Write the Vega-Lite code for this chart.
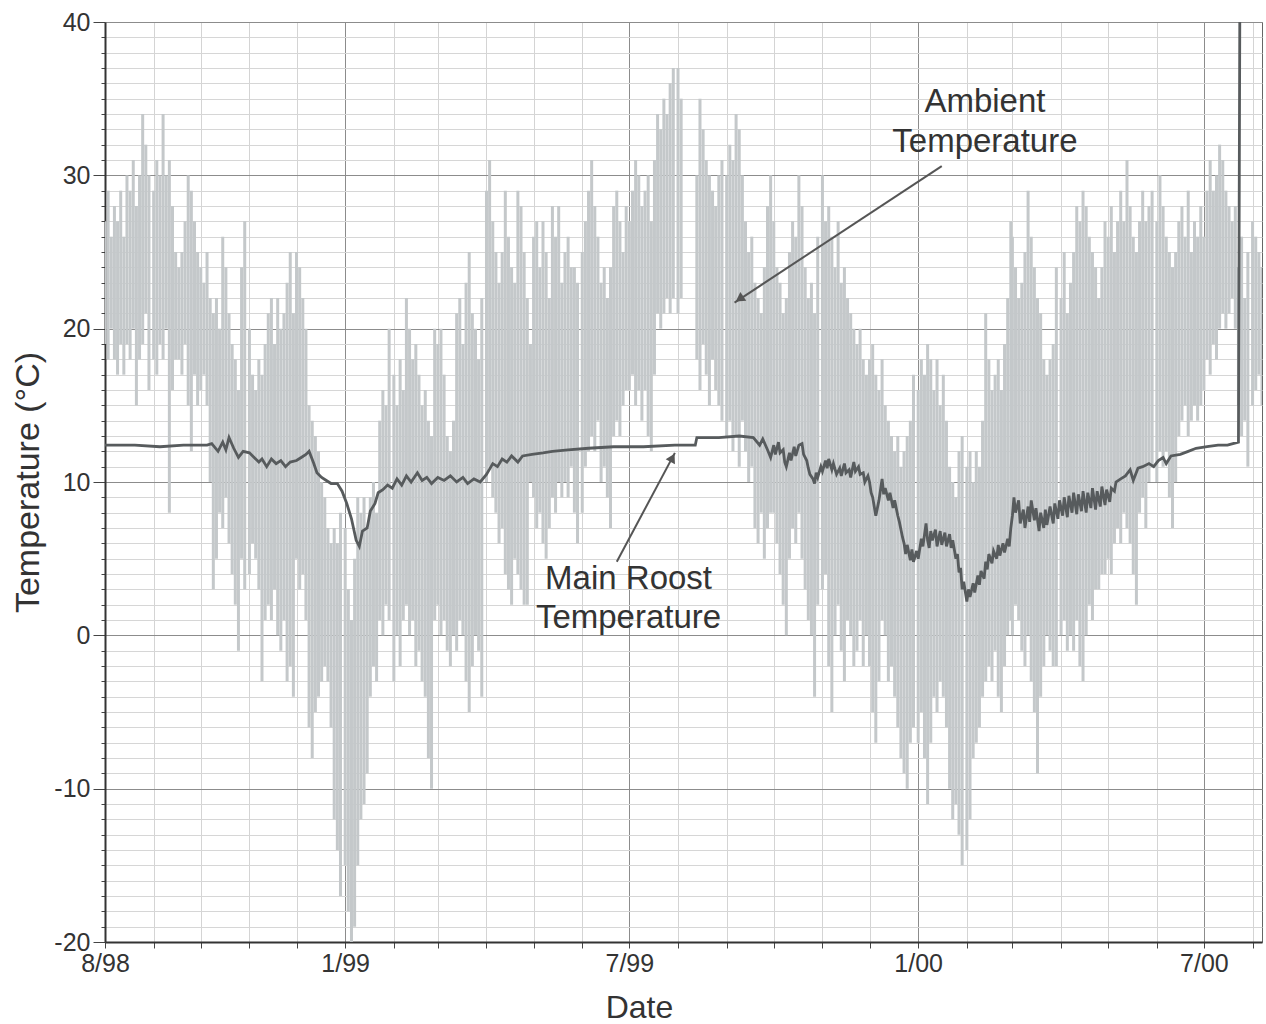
{
  "$schema": "https://vega.github.io/schema/vega-lite/v6.json",
  "width": 1157,
  "height": 920,
  "autosize": {"type": "none"},
  "padding": {"left": 105, "top": 22, "right": 4, "bottom": 82},
  "background": "white",
  "config": {
    "font": "Liberation Sans",
    "view": {"stroke": "#666666", "strokeWidth": 1},
    "axis": {"labelFont": "Liberation Sans", "titleFont": "Liberation Sans", "labelColor": "#333333", "titleColor": "#333333", "domainColor": "#333333", "domainWidth": 2, "tickColor": "#444444", "titleFontWeight": "normal", "labelOverlap": false}
  },
  "datasets": {
    "ambient": [
      {"d":"1998-08-01","lo":19,"hi":27},{"d":"1998-08-03","lo":18,"hi":29},{"d":"1998-08-05","lo":20,"hi":26},{"d":"1998-08-07","lo":18,"hi":28},{"d":"1998-08-09","lo":17,"hi":27},{"d":"1998-08-11","lo":19,"hi":29},{"d":"1998-08-13","lo":17,"hi":26},{"d":"1998-08-15","lo":19,"hi":30},{"d":"1998-08-17","lo":18,"hi":29},{"d":"1998-08-19","lo":20,"hi":31},{"d":"1998-08-21","lo":15,"hi":28},{"d":"1998-08-23","lo":18,"hi":30},{"d":"1998-08-25","lo":19,"hi":34},{"d":"1998-08-27","lo":21,"hi":32},{"d":"1998-08-29","lo":16,"hi":30},
      {"d":"1998-09-01","lo":18,"hi":29},{"d":"1998-09-03","lo":17,"hi":31},{"d":"1998-09-05","lo":19,"hi":30},{"d":"1998-09-07","lo":18,"hi":34},{"d":"1998-09-09","lo":20,"hi":30},{"d":"1998-09-11","lo":8,"hi":31},{"d":"1998-09-13","lo":16,"hi":28},{"d":"1998-09-15","lo":18,"hi":25},{"d":"1998-09-17","lo":18,"hi":24},{"d":"1998-09-19","lo":17,"hi":25},{"d":"1998-09-21","lo":19,"hi":27},{"d":"1998-09-23","lo":15,"hi":30},{"d":"1998-09-25","lo":12,"hi":29},{"d":"1998-09-27","lo":17,"hi":27},{"d":"1998-09-29","lo":15,"hi":25},
      {"d":"1998-10-01","lo":16,"hi":24},{"d":"1998-10-03","lo":17,"hi":23},{"d":"1998-10-05","lo":15,"hi":25},{"d":"1998-10-07","lo":10,"hi":22},{"d":"1998-10-09","lo":3,"hi":21},{"d":"1998-10-11","lo":5,"hi":22},{"d":"1998-10-13","lo":8,"hi":20},{"d":"1998-10-15","lo":7,"hi":26},{"d":"1998-10-17","lo":9,"hi":24},{"d":"1998-10-19","lo":6,"hi":21},{"d":"1998-10-21","lo":4,"hi":19},{"d":"1998-10-23","lo":2,"hi":18},{"d":"1998-10-25","lo":-1,"hi":16},{"d":"1998-10-27","lo":5,"hi":24},{"d":"1998-10-29","lo":3,"hi":27},
      {"d":"1998-11-01","lo":4,"hi":20},{"d":"1998-11-03","lo":6,"hi":17},{"d":"1998-11-05","lo":5,"hi":16},{"d":"1998-11-07","lo":3,"hi":18},{"d":"1998-11-09","lo":-3,"hi":17},{"d":"1998-11-11","lo":1,"hi":19},{"d":"1998-11-13","lo":2,"hi":21},{"d":"1998-11-15","lo":1,"hi":22},{"d":"1998-11-17","lo":3,"hi":19},{"d":"1998-11-19","lo":0,"hi":22},{"d":"1998-11-21","lo":-1,"hi":20},{"d":"1998-11-23","lo":1,"hi":21},{"d":"1998-11-25","lo":-3,"hi":23},{"d":"1998-11-27","lo":-2,"hi":25},{"d":"1998-11-29","lo":-4,"hi":21},
      {"d":"1998-12-01","lo":5,"hi":25},{"d":"1998-12-03","lo":3,"hi":24},{"d":"1998-12-05","lo":4,"hi":22},{"d":"1998-12-07","lo":1,"hi":20},{"d":"1998-12-09","lo":-6,"hi":15},{"d":"1998-12-11","lo":-8,"hi":14},{"d":"1998-12-13","lo":-5,"hi":13},{"d":"1998-12-15","lo":-4,"hi":12},{"d":"1998-12-17","lo":-3,"hi":10},{"d":"1998-12-19","lo":-2,"hi":9},{"d":"1998-12-21","lo":-3,"hi":7},{"d":"1998-12-23","lo":-6,"hi":6},{"d":"1998-12-25","lo":-12,"hi":7},{"d":"1998-12-27","lo":-14,"hi":6},{"d":"1998-12-29","lo":-17,"hi":8},
      {"d":"1999-01-01","lo":-15,"hi":7},{"d":"1999-01-03","lo":-18,"hi":3},{"d":"1999-01-05","lo":-20,"hi":1},{"d":"1999-01-07","lo":-19,"hi":5},{"d":"1999-01-09","lo":-15,"hi":9},{"d":"1999-01-11","lo":-12,"hi":8},{"d":"1999-01-13","lo":-11,"hi":9},{"d":"1999-01-15","lo":-9,"hi":7},{"d":"1999-01-17","lo":-4,"hi":9},{"d":"1999-01-19","lo":-2,"hi":10},{"d":"1999-01-21","lo":-3,"hi":8},{"d":"1999-01-23","lo":1,"hi":14},{"d":"1999-01-25","lo":0,"hi":16},{"d":"1999-01-27","lo":2,"hi":15},{"d":"1999-01-29","lo":1,"hi":20},
      {"d":"1999-02-01","lo":-3,"hi":17},{"d":"1999-02-03","lo":0,"hi":15},{"d":"1999-02-05","lo":-2,"hi":18},{"d":"1999-02-07","lo":1,"hi":16},{"d":"1999-02-09","lo":2,"hi":22},{"d":"1999-02-11","lo":0,"hi":20},{"d":"1999-02-13","lo":1,"hi":18},{"d":"1999-02-15","lo":-2,"hi":19},{"d":"1999-02-17","lo":-1,"hi":17},{"d":"1999-02-19","lo":-3,"hi":15},{"d":"1999-02-21","lo":-4,"hi":16},{"d":"1999-02-23","lo":-8,"hi":14},{"d":"1999-02-25","lo":-10,"hi":13},{"d":"1999-02-27","lo":1,"hi":20},
      {"d":"1999-03-01","lo":2,"hi":19},{"d":"1999-03-03","lo":0,"hi":20},{"d":"1999-03-05","lo":1,"hi":17},{"d":"1999-03-07","lo":-1,"hi":13},{"d":"1999-03-09","lo":-2,"hi":12},{"d":"1999-03-11","lo":0,"hi":14},{"d":"1999-03-13","lo":-1,"hi":21},{"d":"1999-03-15","lo":1,"hi":22},{"d":"1999-03-17","lo":0,"hi":19},{"d":"1999-03-19","lo":-3,"hi":23},{"d":"1999-03-21","lo":-5,"hi":25},{"d":"1999-03-23","lo":-2,"hi":21},{"d":"1999-03-25","lo":0,"hi":20},{"d":"1999-03-27","lo":-1,"hi":18},{"d":"1999-03-29","lo":-4,"hi":22},
      {"d":"1999-04-01","lo":10,"hi":29},{"d":"1999-04-03","lo":11,"hi":31},{"d":"1999-04-05","lo":9,"hi":27},{"d":"1999-04-07","lo":8,"hi":25},{"d":"1999-04-09","lo":6,"hi":23},{"d":"1999-04-11","lo":7,"hi":25},{"d":"1999-04-13","lo":4,"hi":29},{"d":"1999-04-15","lo":3,"hi":26},{"d":"1999-04-17","lo":2,"hi":24},{"d":"1999-04-19","lo":5,"hi":23},{"d":"1999-04-21","lo":4,"hi":29},{"d":"1999-04-23","lo":3,"hi":28},{"d":"1999-04-25","lo":2,"hi":25},{"d":"1999-04-27","lo":2,"hi":22},{"d":"1999-04-29","lo":10,"hi":19},
      {"d":"1999-05-01","lo":9,"hi":26},{"d":"1999-05-03","lo":7,"hi":27},{"d":"1999-05-05","lo":8,"hi":24},{"d":"1999-05-07","lo":6,"hi":27},{"d":"1999-05-09","lo":5,"hi":25},{"d":"1999-05-11","lo":7,"hi":22},{"d":"1999-05-13","lo":9,"hi":28},{"d":"1999-05-15","lo":8,"hi":26},{"d":"1999-05-17","lo":10,"hi":28},{"d":"1999-05-19","lo":9,"hi":23},{"d":"1999-05-21","lo":10,"hi":25},{"d":"1999-05-23","lo":9,"hi":26},{"d":"1999-05-25","lo":11,"hi":24},{"d":"1999-05-27","lo":8,"hi":24},{"d":"1999-05-29","lo":6,"hi":23},
      {"d":"1999-06-01","lo":8,"hi":25},{"d":"1999-06-03","lo":11,"hi":27},{"d":"1999-06-05","lo":12,"hi":29},{"d":"1999-06-07","lo":13,"hi":31},{"d":"1999-06-09","lo":12,"hi":28},{"d":"1999-06-11","lo":14,"hi":26},{"d":"1999-06-13","lo":10,"hi":23},{"d":"1999-06-15","lo":11,"hi":24},{"d":"1999-06-17","lo":9,"hi":22},{"d":"1999-06-19","lo":7,"hi":24},{"d":"1999-06-21","lo":13,"hi":28},{"d":"1999-06-23","lo":14,"hi":29},{"d":"1999-06-25","lo":13,"hi":27},{"d":"1999-06-27","lo":15,"hi":25},{"d":"1999-06-29","lo":16,"hi":28},
      {"d":"1999-07-01","lo":16,"hi":27},{"d":"1999-07-03","lo":17,"hi":29},{"d":"1999-07-05","lo":15,"hi":31},{"d":"1999-07-07","lo":16,"hi":30},{"d":"1999-07-09","lo":14,"hi":28},{"d":"1999-07-11","lo":16,"hi":29},{"d":"1999-07-13","lo":13,"hi":30},{"d":"1999-07-15","lo":12,"hi":27},{"d":"1999-07-17","lo":17,"hi":31},{"d":"1999-07-19","lo":21,"hi":34},{"d":"1999-07-21","lo":20,"hi":33},{"d":"1999-07-23","lo":21,"hi":35},{"d":"1999-07-25","lo":22,"hi":34},{"d":"1999-07-27","lo":21,"hi":36},{"d":"1999-07-29","lo":22,"hi":37},
      {"d":"1999-08-01","lo":21,"hi":37},{"d":"1999-08-03","lo":22,"hi":35},{"d":"1999-08-13","lo":18,"hi":30},{"d":"1999-08-15","lo":16,"hi":35},{"d":"1999-08-17","lo":19,"hi":33},{"d":"1999-08-19","lo":17,"hi":31},{"d":"1999-08-21","lo":15,"hi":30},{"d":"1999-08-23","lo":18,"hi":29},{"d":"1999-08-25","lo":16,"hi":28},{"d":"1999-08-27","lo":15,"hi":30},{"d":"1999-08-29","lo":14,"hi":31},
      {"d":"1999-09-01","lo":13,"hi":30},{"d":"1999-09-03","lo":14,"hi":32},{"d":"1999-09-05","lo":12,"hi":31},{"d":"1999-09-07","lo":13,"hi":34},{"d":"1999-09-09","lo":11,"hi":33},{"d":"1999-09-11","lo":14,"hi":30},{"d":"1999-09-13","lo":12,"hi":27},{"d":"1999-09-15","lo":10,"hi":25},{"d":"1999-09-17","lo":11,"hi":26},{"d":"1999-09-19","lo":7,"hi":23},{"d":"1999-09-21","lo":6,"hi":22},{"d":"1999-09-23","lo":8,"hi":21},{"d":"1999-09-25","lo":5,"hi":24},{"d":"1999-09-27","lo":7,"hi":28},{"d":"1999-09-29","lo":8,"hi":30},
      {"d":"1999-10-01","lo":8,"hi":27},{"d":"1999-10-03","lo":6,"hi":24},{"d":"1999-10-05","lo":4,"hi":23},{"d":"1999-10-07","lo":2,"hi":21},{"d":"1999-10-09","lo":0,"hi":22},{"d":"1999-10-11","lo":5,"hi":25},{"d":"1999-10-13","lo":7,"hi":27},{"d":"1999-10-15","lo":6,"hi":26},{"d":"1999-10-17","lo":8,"hi":30},{"d":"1999-10-19","lo":5,"hi":28},{"d":"1999-10-21","lo":3,"hi":24},{"d":"1999-10-23","lo":1,"hi":22},{"d":"1999-10-25","lo":0,"hi":23},{"d":"1999-10-27","lo":-4,"hi":21},{"d":"1999-10-29","lo":2,"hi":26},
      {"d":"1999-11-01","lo":3,"hi":30},{"d":"1999-11-03","lo":4,"hi":27},{"d":"1999-11-05","lo":-2,"hi":28},{"d":"1999-11-07","lo":-5,"hi":26},{"d":"1999-11-09","lo":0,"hi":24},{"d":"1999-11-11","lo":2,"hi":27},{"d":"1999-11-13","lo":-1,"hi":23},{"d":"1999-11-15","lo":-3,"hi":24},{"d":"1999-11-17","lo":1,"hi":22},{"d":"1999-11-19","lo":0,"hi":21},{"d":"1999-11-21","lo":-2,"hi":20},{"d":"1999-11-23","lo":-1,"hi":19},{"d":"1999-11-25","lo":1,"hi":20},{"d":"1999-11-27","lo":-2,"hi":18},{"d":"1999-11-29","lo":0,"hi":17},
      {"d":"1999-12-01","lo":-2,"hi":18},{"d":"1999-12-03","lo":-5,"hi":19},{"d":"1999-12-05","lo":-7,"hi":17},{"d":"1999-12-07","lo":-3,"hi":16},{"d":"1999-12-09","lo":1,"hi":18},{"d":"1999-12-11","lo":0,"hi":15},{"d":"1999-12-13","lo":-3,"hi":14},{"d":"1999-12-15","lo":-2,"hi":13},{"d":"1999-12-17","lo":-4,"hi":12},{"d":"1999-12-19","lo":-6,"hi":13},{"d":"1999-12-21","lo":-8,"hi":11},{"d":"1999-12-23","lo":-9,"hi":12},{"d":"1999-12-25","lo":-10,"hi":13},{"d":"1999-12-27","lo":-7,"hi":14},{"d":"1999-12-29","lo":-6,"hi":17},
      {"d":"2000-01-01","lo":-7,"hi":16},{"d":"2000-01-03","lo":-5,"hi":18},{"d":"2000-01-05","lo":-8,"hi":17},{"d":"2000-01-07","lo":-11,"hi":19},{"d":"2000-01-09","lo":-7,"hi":18},{"d":"2000-01-11","lo":-4,"hi":16},{"d":"2000-01-13","lo":-5,"hi":18},{"d":"2000-01-15","lo":-3,"hi":15},{"d":"2000-01-17","lo":-4,"hi":17},{"d":"2000-01-19","lo":-6,"hi":14},{"d":"2000-01-21","lo":-10,"hi":11},{"d":"2000-01-23","lo":-12,"hi":10},{"d":"2000-01-25","lo":-11,"hi":9},{"d":"2000-01-27","lo":-13,"hi":12},{"d":"2000-01-29","lo":-15,"hi":13},
      {"d":"2000-02-01","lo":-14,"hi":11},{"d":"2000-02-03","lo":-12,"hi":12},{"d":"2000-02-05","lo":-8,"hi":10},{"d":"2000-02-07","lo":-7,"hi":12},{"d":"2000-02-09","lo":-6,"hi":11},{"d":"2000-02-11","lo":-4,"hi":14},{"d":"2000-02-13","lo":-3,"hi":21},{"d":"2000-02-15","lo":-2,"hi":18},{"d":"2000-02-17","lo":-3,"hi":16},{"d":"2000-02-19","lo":-1,"hi":17},{"d":"2000-02-21","lo":-4,"hi":18},{"d":"2000-02-23","lo":-5,"hi":16},{"d":"2000-02-25","lo":-2,"hi":19},{"d":"2000-02-27","lo":0,"hi":22},{"d":"2000-02-29","lo":1,"hi":27},
      {"d":"2000-03-01","lo":0,"hi":26},{"d":"2000-03-03","lo":2,"hi":24},{"d":"2000-03-05","lo":1,"hi":22},{"d":"2000-03-07","lo":-1,"hi":23},{"d":"2000-03-09","lo":-2,"hi":25},{"d":"2000-03-11","lo":0,"hi":29},{"d":"2000-03-13","lo":-3,"hi":26},{"d":"2000-03-15","lo":-5,"hi":24},{"d":"2000-03-17","lo":-9,"hi":22},{"d":"2000-03-19","lo":-4,"hi":21},{"d":"2000-03-21","lo":-2,"hi":18},{"d":"2000-03-23","lo":0,"hi":17},{"d":"2000-03-25","lo":-1,"hi":18},{"d":"2000-03-27","lo":-2,"hi":19},{"d":"2000-03-29","lo":-2,"hi":24},
      {"d":"2000-04-01","lo":0,"hi":22},{"d":"2000-04-03","lo":1,"hi":25},{"d":"2000-04-05","lo":-1,"hi":21},{"d":"2000-04-07","lo":0,"hi":23},{"d":"2000-04-09","lo":-1,"hi":25},{"d":"2000-04-11","lo":1,"hi":28},{"d":"2000-04-13","lo":-2,"hi":27},{"d":"2000-04-15","lo":-3,"hi":29},{"d":"2000-04-17","lo":0,"hi":28},{"d":"2000-04-19","lo":2,"hi":26},{"d":"2000-04-21","lo":1,"hi":25},{"d":"2000-04-23","lo":3,"hi":24},{"d":"2000-04-25","lo":3,"hi":22},{"d":"2000-04-27","lo":4,"hi":24},{"d":"2000-04-29","lo":4,"hi":27},
      {"d":"2000-05-01","lo":5,"hi":26},{"d":"2000-05-03","lo":4,"hi":28},{"d":"2000-05-05","lo":6,"hi":25},{"d":"2000-05-07","lo":7,"hi":27},{"d":"2000-05-09","lo":6,"hi":29},{"d":"2000-05-11","lo":8,"hi":27},{"d":"2000-05-13","lo":7,"hi":31},{"d":"2000-05-15","lo":6,"hi":28},{"d":"2000-05-17","lo":4,"hi":26},{"d":"2000-05-19","lo":2,"hi":25},{"d":"2000-05-21","lo":8,"hi":27},{"d":"2000-05-23","lo":9,"hi":29},{"d":"2000-05-25","lo":7,"hi":27},{"d":"2000-05-27","lo":10,"hi":28},{"d":"2000-05-29","lo":11,"hi":29},
      {"d":"2000-06-01","lo":10,"hi":27},{"d":"2000-06-03","lo":12,"hi":30},{"d":"2000-06-05","lo":11,"hi":28},{"d":"2000-06-07","lo":12,"hi":26},{"d":"2000-06-09","lo":9,"hi":25},{"d":"2000-06-11","lo":7,"hi":24},{"d":"2000-06-13","lo":10,"hi":25},{"d":"2000-06-15","lo":13,"hi":27},{"d":"2000-06-17","lo":14,"hi":28},{"d":"2000-06-19","lo":15,"hi":26},{"d":"2000-06-21","lo":13,"hi":29},{"d":"2000-06-23","lo":14,"hi":25},{"d":"2000-06-25","lo":15,"hi":27},{"d":"2000-06-27","lo":14,"hi":26},{"d":"2000-06-29","lo":15,"hi":28},
      {"d":"2000-07-01","lo":16,"hi":26},{"d":"2000-07-03","lo":18,"hi":29},{"d":"2000-07-05","lo":17,"hi":31},{"d":"2000-07-07","lo":19,"hi":29},{"d":"2000-07-09","lo":18,"hi":30},{"d":"2000-07-11","lo":20,"hi":32},{"d":"2000-07-13","lo":21,"hi":31},{"d":"2000-07-15","lo":20,"hi":29},{"d":"2000-07-17","lo":21,"hi":28},{"d":"2000-07-19","lo":22,"hi":27},{"d":"2000-07-21","lo":20,"hi":28},{"d":"2000-07-23","lo":15,"hi":24},{"d":"2000-07-25","lo":13,"hi":26},{"d":"2000-07-27","lo":14,"hi":22},{"d":"2000-07-29","lo":11,"hi":25},
      {"d":"2000-08-01","lo":15,"hi":27},{"d":"2000-08-03","lo":16,"hi":26},{"d":"2000-08-05","lo":17,"hi":25},{"d":"2000-08-07","lo":15,"hi":24}
    ],
    "roost": [
      {"d":"1998-08-01","t":12.4},{"d":"1998-08-20","t":12.4},{"d":"1998-09-05","t":12.3},{"d":"1998-09-20","t":12.4},{"d":"1998-10-05","t":12.4},{"d":"1998-10-08","t":12.5},{"d":"1998-10-12","t":12.0},{"d":"1998-10-15","t":12.6},{"d":"1998-10-17","t":12.1},{"d":"1998-10-19","t":12.9},{"d":"1998-10-22","t":12.2},{"d":"1998-10-25","t":11.6},{"d":"1998-10-28","t":12.0},
      {"d":"1998-11-01","t":11.9},{"d":"1998-11-04","t":11.6},{"d":"1998-11-07","t":11.3},{"d":"1998-11-09","t":11.5},{"d":"1998-11-12","t":11.0},{"d":"1998-11-15","t":11.5},{"d":"1998-11-18","t":11.2},{"d":"1998-11-21","t":11.4},{"d":"1998-11-24","t":11.0},{"d":"1998-11-27","t":11.3},
      {"d":"1998-12-01","t":11.4},{"d":"1998-12-04","t":11.6},{"d":"1998-12-07","t":11.8},{"d":"1998-12-09","t":12.0},{"d":"1998-12-12","t":11.2},{"d":"1998-12-14","t":10.6},{"d":"1998-12-17","t":10.3},{"d":"1998-12-20","t":10.1},{"d":"1998-12-23","t":9.9},{"d":"1998-12-27","t":9.9},{"d":"1998-12-30","t":9.4},
      {"d":"1999-01-02","t":8.6},{"d":"1999-01-05","t":7.6},{"d":"1999-01-08","t":6.2},{"d":"1999-01-10","t":5.8},{"d":"1999-01-12","t":6.8},{"d":"1999-01-15","t":7.0},{"d":"1999-01-17","t":8.1},{"d":"1999-01-20","t":8.6},{"d":"1999-01-22","t":9.3},{"d":"1999-01-25","t":9.5},{"d":"1999-01-28","t":9.8},{"d":"1999-01-31","t":9.6},
      {"d":"1999-02-03","t":10.2},{"d":"1999-02-06","t":9.8},{"d":"1999-02-09","t":10.4},{"d":"1999-02-12","t":10.0},{"d":"1999-02-16","t":10.6},{"d":"1999-02-19","t":10.1},{"d":"1999-02-22","t":10.3},{"d":"1999-02-25","t":9.9},
      {"d":"1999-03-01","t":10.3},{"d":"1999-03-05","t":10.1},{"d":"1999-03-09","t":10.4},{"d":"1999-03-13","t":10.0},{"d":"1999-03-17","t":10.3},{"d":"1999-03-20","t":9.9},{"d":"1999-03-24","t":10.2},{"d":"1999-03-28","t":10.0},
      {"d":"1999-04-01","t":10.5},{"d":"1999-04-05","t":11.2},{"d":"1999-04-08","t":11.0},{"d":"1999-04-11","t":11.5},{"d":"1999-04-14","t":11.3},{"d":"1999-04-17","t":11.7},{"d":"1999-04-21","t":11.3},{"d":"1999-04-24","t":11.7},{"d":"1999-04-30","t":11.8},
      {"d":"1999-05-07","t":11.9},{"d":"1999-05-13","t":12.0},{"d":"1999-05-23","t":12.1},{"d":"1999-06-05","t":12.2},{"d":"1999-06-21","t":12.3},{"d":"1999-07-10","t":12.3},{"d":"1999-07-30","t":12.4},{"d":"1999-08-12","t":12.4},{"d":"1999-08-13","t":12.9},{"d":"1999-08-27","t":12.9},
      {"d":"1999-09-09","t":13.0},{"d":"1999-09-18","t":12.9},{"d":"1999-09-22","t":12.4},{"d":"1999-09-24","t":12.8},{"d":"1999-09-27","t":12.1},{"d":"1999-09-29","t":11.6},
      {"d":"1999-10-01","t":12.4},{"d":"1999-10-02","t":11.8},{"d":"1999-10-04","t":12.6},{"d":"1999-10-05","t":11.9},{"d":"1999-10-07","t":12.1},{"d":"1999-10-08","t":11.3},{"d":"1999-10-09","t":11.0},{"d":"1999-10-11","t":11.9},{"d":"1999-10-12","t":11.4},{"d":"1999-10-14","t":12.3},{"d":"1999-10-15","t":11.7},{"d":"1999-10-17","t":12.4},{"d":"1999-10-19","t":12.5},{"d":"1999-10-20","t":11.8},{"d":"1999-10-22","t":11.4},{"d":"1999-10-23","t":10.9},{"d":"1999-10-24","t":10.5},{"d":"1999-10-26","t":10.2},{"d":"1999-10-27","t":9.9},{"d":"1999-10-28","t":10.6},{"d":"1999-10-29","t":10.3},{"d":"1999-10-31","t":11.0},
      {"d":"1999-11-01","t":10.7},{"d":"1999-11-03","t":11.4},{"d":"1999-11-04","t":10.9},{"d":"1999-11-05","t":11.5},{"d":"1999-11-07","t":10.8},{"d":"1999-11-08","t":11.2},{"d":"1999-11-10","t":10.5},{"d":"1999-11-12","t":10.9},{"d":"1999-11-13","t":10.4},{"d":"1999-11-15","t":11.2},{"d":"1999-11-16","t":10.6},{"d":"1999-11-18","t":10.8},{"d":"1999-11-19","t":10.3},{"d":"1999-11-21","t":11.3},{"d":"1999-11-22","t":10.7},{"d":"1999-11-24","t":11.0},{"d":"1999-11-25","t":10.5},{"d":"1999-11-27","t":10.6},{"d":"1999-11-28","t":10.0},{"d":"1999-11-30","t":10.4},
      {"d":"1999-12-01","t":10.0},{"d":"1999-12-02","t":9.3},{"d":"1999-12-03","t":9.0},{"d":"1999-12-05","t":7.8},{"d":"1999-12-07","t":8.8},{"d":"1999-12-09","t":10.2},{"d":"1999-12-10","t":9.2},{"d":"1999-12-11","t":9.6},{"d":"1999-12-13","t":8.8},{"d":"1999-12-14","t":9.3},{"d":"1999-12-16","t":8.3},{"d":"1999-12-17","t":8.8},{"d":"1999-12-19","t":7.8},{"d":"1999-12-20","t":7.4},{"d":"1999-12-22","t":6.4},{"d":"1999-12-23","t":6.0},{"d":"1999-12-24","t":5.3},{"d":"1999-12-25","t":5.9},{"d":"1999-12-27","t":4.9},{"d":"1999-12-28","t":5.6},{"d":"1999-12-29","t":4.8},{"d":"1999-12-31","t":5.5},
      {"d":"2000-01-01","t":5.0},{"d":"2000-01-03","t":6.3},{"d":"2000-01-04","t":5.8},{"d":"2000-01-06","t":7.3},{"d":"2000-01-07","t":6.2},{"d":"2000-01-08","t":5.7},{"d":"2000-01-09","t":6.8},{"d":"2000-01-10","t":6.2},{"d":"2000-01-12","t":6.9},{"d":"2000-01-13","t":5.8},{"d":"2000-01-15","t":6.8},{"d":"2000-01-16","t":5.9},{"d":"2000-01-18","t":6.7},{"d":"2000-01-19","t":5.8},{"d":"2000-01-21","t":6.6},{"d":"2000-01-22","t":5.7},{"d":"2000-01-23","t":6.2},{"d":"2000-01-25","t":5.0},{"d":"2000-01-26","t":5.3},{"d":"2000-01-27","t":4.1},{"d":"2000-01-28","t":4.4},{"d":"2000-01-29","t":3.0},{"d":"2000-01-30","t":3.5},
      {"d":"2000-02-01","t":2.2},{"d":"2000-02-02","t":3.0},{"d":"2000-02-03","t":2.5},{"d":"2000-02-05","t":3.4},{"d":"2000-02-06","t":2.8},{"d":"2000-02-08","t":3.9},{"d":"2000-02-09","t":3.3},{"d":"2000-02-10","t":4.2},{"d":"2000-02-12","t":3.7},{"d":"2000-02-13","t":4.8},{"d":"2000-02-14","t":4.3},{"d":"2000-02-15","t":5.3},{"d":"2000-02-17","t":4.7},{"d":"2000-02-18","t":5.5},{"d":"2000-02-20","t":5.0},{"d":"2000-02-21","t":5.9},{"d":"2000-02-22","t":5.2},{"d":"2000-02-24","t":6.0},{"d":"2000-02-25","t":5.4},{"d":"2000-02-27","t":6.3},{"d":"2000-02-28","t":5.8},{"d":"2000-02-29","t":7.0},
      {"d":"2000-03-01","t":7.8},{"d":"2000-03-02","t":9.0},{"d":"2000-03-03","t":8.0},{"d":"2000-03-05","t":8.8},{"d":"2000-03-06","t":7.3},{"d":"2000-03-08","t":8.2},{"d":"2000-03-09","t":7.0},{"d":"2000-03-11","t":8.4},{"d":"2000-03-12","t":7.4},{"d":"2000-03-13","t":8.8},{"d":"2000-03-15","t":7.5},{"d":"2000-03-16","t":8.3},{"d":"2000-03-18","t":6.8},{"d":"2000-03-19","t":8.0},{"d":"2000-03-21","t":7.0},{"d":"2000-03-22","t":8.2},{"d":"2000-03-23","t":7.2},{"d":"2000-03-25","t":8.4},{"d":"2000-03-27","t":7.3},{"d":"2000-03-28","t":8.6},{"d":"2000-03-30","t":7.6},{"d":"2000-03-31","t":8.8},
      {"d":"2000-04-02","t":7.8},{"d":"2000-04-03","t":9.0},{"d":"2000-04-05","t":7.7},{"d":"2000-04-06","t":9.1},{"d":"2000-04-08","t":8.0},{"d":"2000-04-09","t":9.3},{"d":"2000-04-11","t":7.9},{"d":"2000-04-12","t":9.2},{"d":"2000-04-14","t":8.1},{"d":"2000-04-15","t":9.4},{"d":"2000-04-17","t":8.0},{"d":"2000-04-18","t":9.3},{"d":"2000-04-20","t":8.3},{"d":"2000-04-21","t":9.6},{"d":"2000-04-23","t":8.2},{"d":"2000-04-24","t":9.4},{"d":"2000-04-26","t":8.4},{"d":"2000-04-27","t":9.7},{"d":"2000-04-29","t":8.5},{"d":"2000-04-30","t":9.5},
      {"d":"2000-05-02","t":8.7},{"d":"2000-05-03","t":9.6},{"d":"2000-05-05","t":9.4},{"d":"2000-05-06","t":10.0},{"d":"2000-05-09","t":10.2},{"d":"2000-05-12","t":10.4},{"d":"2000-05-15","t":10.8},{"d":"2000-05-17","t":10.1},{"d":"2000-05-20","t":10.9},{"d":"2000-05-23","t":11.0},{"d":"2000-05-27","t":11.2},{"d":"2000-05-30","t":11.0},
      {"d":"2000-06-02","t":11.4},{"d":"2000-06-05","t":11.6},{"d":"2000-06-07","t":11.2},{"d":"2000-06-10","t":11.7},{"d":"2000-06-16","t":11.8},{"d":"2000-06-21","t":12.0},{"d":"2000-06-26","t":12.2},
      {"d":"2000-07-03","t":12.3},{"d":"2000-07-10","t":12.4},{"d":"2000-07-16","t":12.4},{"d":"2000-07-23","t":12.6},{"d":"2000-07-24","t":45}
    ],
    "labels": [
      {"d":"2000-02-12T12:00:00Z","t":34.1,"text":"Ambient"},
      {"d":"2000-02-12T12:00:00Z","t":31.5,"text":"Temperature"},
      {"d":"1999-06-30T12:00:00Z","t":3.0,"text":"Main Roost"},
      {"d":"1999-06-30T12:00:00Z","t":0.5,"text":"Temperature"}
    ],
    "arrows": [
      {"d":"2000-01-16","t":30.6,"d2":"1999-09-06","t2":21.7},
      {"d":"1999-06-23","t":4.8,"d2":"1999-07-30","t2":11.9}
    ]
  },
  "layer": [
    {
      "data": {"name": "ambient"},
      "mark": {"type": "rule", "color": "#c4c8ca", "strokeWidth": 3, "clip": true},
      "encoding": {
        "x": {
          "field": "d", "type": "temporal",
          "scale": {"type": "utc", "domain": [{"year": 1998, "month": 8, "date": 1, "utc": true}, {"year": 2000, "month": 8, "date": 7, "utc": true}]},
          "axis": {
            "tickCount": {"interval": "month", "step": 1},
            "labelExpr": "(utcmonth(datum.value)==0 || utcmonth(datum.value)==6 || (utcyear(datum.value)==1998 && utcmonth(datum.value)==7)) ? utcFormat(datum.value, '%-m/%y') : ''",
            "labelFontSize": 25, "labelPadding": 3, "tickSize": 6,
            "labelOverlap": false, "labelFlush": false, "labelBound": false,
            "grid": true,
            "gridColor": {"condition": {"test": "utcmonth(datum.value) % 6 == 0", "value": "#8c8c8c"}, "value": "#d4d4d4"},
            "title": "Date", "titleFontSize": 32, "titleX": 534, "titleY": 75, "titleBaseline": "alphabetic", "titleAlign": "center"
          }
        },
        "y": {
          "field": "lo", "type": "quantitative",
          "scale": {"domain": [-20, 40], "nice": false, "zero": false},
          "axis": {
            "values": [-20,-19,-18,-17,-16,-15,-14,-13,-12,-11,-10,-9,-8,-7,-6,-5,-4,-3,-2,-1,0,1,2,3,4,5,6,7,8,9,10,11,12,13,14,15,16,17,18,19,20,21,22,23,24,25,26,27,28,29,30,31,32,33,34,35,36,37,38,39,40],
            "tickCount": 200,
            "labelExpr": "datum.value % 10 == 0 ? '' + datum.value : ''",
            "labelFontSize": 25, "labelPadding": 3, "labelOverlap": false, "labelBound": false,
            "tickSize": {"condition": {"test": "datum.value % 10 == 0", "value": 12}, "value": 4},
            "grid": true,
            "gridColor": {"condition": {"test": "datum.value % 10 == 0", "value": "#8c8c8c"}, "value": "#d6d6d6"},
            "title": "Temperature  (°C)", "titleFontSize": 34, "titleAngle": -90, "titleX": -67, "titleY": 460, "titleBaseline": "alphabetic", "titleAlign": "center"
          }
        },
        "y2": {"field": "hi"}
      }
    },
    {
      "data": {"name": "roost"},
      "mark": {"type": "line", "color": "#575b5d", "strokeWidth": 2.8, "clip": true},
      "encoding": {
        "x": {"field": "d", "type": "temporal"},
        "y": {"field": "t", "type": "quantitative"}
      }
    },
    {
      "data": {"name": "arrows"},
      "mark": {"type": "rule", "color": "#555555", "strokeWidth": 2},
      "encoding": {
        "x": {"field": "d", "type": "temporal"},
        "y": {"field": "t", "type": "quantitative"},
        "x2": {"field": "d2"},
        "y2": {"field": "t2"}
      }
    },
    {
      "data": {"values": [{"d": "1999-09-10", "t": 22.0}]},
      "mark": {"type": "point", "shape": "triangle", "filled": true, "color": "#555555", "size": 110, "angle": 236, "opacity": 1},
      "encoding": {
        "x": {"field": "d", "type": "temporal"},
        "y": {"field": "t", "type": "quantitative"}
      }
    },
    {
      "data": {"values": [{"d": "1999-07-28", "t": 11.5}]},
      "mark": {"type": "point", "shape": "triangle", "filled": true, "color": "#555555", "size": 110, "angle": 28, "opacity": 1},
      "encoding": {
        "x": {"field": "d", "type": "temporal"},
        "y": {"field": "t", "type": "quantitative"}
      }
    },
    {
      "data": {"name": "labels"},
      "mark": {"type": "text", "font": "Liberation Sans", "fontSize": 33, "color": "#333333", "align": "center", "baseline": "alphabetic"},
      "encoding": {
        "x": {"field": "d", "type": "temporal"},
        "y": {"field": "t", "type": "quantitative"},
        "text": {"field": "text"}
      }
    }
  ]
}
